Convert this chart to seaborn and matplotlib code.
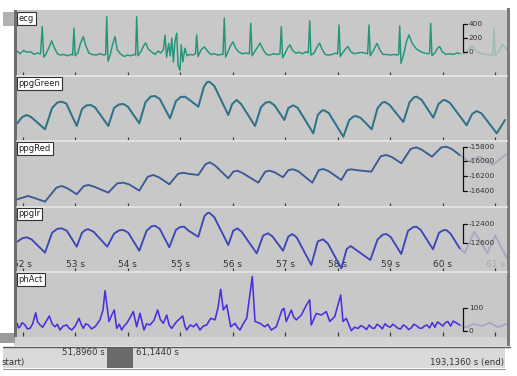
import matplotlib
matplotlib.use("Agg")
import matplotlib.pyplot as plt
import seaborn as sns
from matplotlib.patches import Rectangle

sns.set_style("white")
plt.rcParams['font.family'] = ['DejaVu Sans']

# ---------------- data (time in s) ----------------
ecg_t = [51.89, 51.95, 52.02, 52.08, 52.15, 52.22, 52.28, 52.34, 52.373, 52.40, 52.44, 52.50, 52.552, 52.60, 52.66,
         52.72, 52.78, 52.85, 52.92, 52.95, 52.977, 53.00, 53.05, 53.10, 53.154, 53.20, 53.26,
         53.32, 53.40, 53.47, 53.55, 53.58, 53.60, 53.625, 53.67, 53.71, 53.758, 53.80, 53.86,
         53.93, 54.00, 54.06, 54.12, 54.15, 54.171, 54.195, 54.25, 54.30, 54.343, 54.39, 54.45,
         54.52, 54.58, 54.63, 54.68, 54.71, 54.74, 54.78, 54.81, 54.84, 54.87, 54.90, 54.933, 54.96, 54.996,
         55.02, 55.05, 55.09, 55.13, 55.18, 55.24, 55.29, 55.314, 55.34, 55.40, 55.46, 55.52, 55.58,
         55.65, 55.72, 55.78, 55.815, 55.84, 55.865, 55.92, 55.96, 56.006, 56.05, 56.11,
         56.18, 56.25, 56.318, 56.343, 56.37, 56.45, 56.52, 56.58, 56.64,
         56.71, 56.78, 56.85, 56.90, 56.926, 56.95, 57.00, 57.05, 57.091, 57.14, 57.20,
         57.27, 57.33, 57.40, 57.44, 57.467, 57.49, 57.55, 57.60, 57.657, 57.70, 57.76,
         57.82, 57.90, 57.96, 58.00, 58.025, 58.05, 58.10, 58.15, 58.196, 58.25, 58.31,
         58.38, 58.45, 58.52, 58.57, 58.596, 58.62, 58.68, 58.749, 58.80, 58.86,
         58.93, 59.00, 59.07, 59.13, 59.16, 59.181, 59.205, 59.26, 59.31, 59.358, 59.42, 59.50,
         59.58, 59.65, 59.72, 59.75, 59.771, 59.795, 59.85, 59.90, 59.943, 59.99, 60.06,
         60.13, 60.20, 60.27, 60.324]
ecg_v = [10, -30, 20, -10, 0, -40, -20, -30, 365, -80, -40, 60, 160, 60, -30,
         -50, -40, -60, -40, -50, 340, -60, -20, 120, 220, 90, -20,
         -40, -50, -30, -50, -40, 510, -140, -40, 100, 220, 30, -30,
         -70, -50, -60, -40, -50, 510, -60, 0, 80, 130, 40, 0,
         -40, 10, -20, 30, 240, -80, 120, -60, 200, -150, 150, 270, -200, -270,
         100, -150, 50, -60, -40, -50, -30, 245, -70, 30, 70, 10, -40,
         -30, -50, -40, -40, 490, -80, 20, 90, 145, 60, 0,
         -30, -20, -30, 415, -60, 40, 125, 30, -40,
         -50, -30, -40, -30, 365, -90, -20, 60, 100, 20, -20,
         -10, -30, 0, -20, 450, -50, -20, 60, 125, 40, -40,
         -50, -40, -20, -30, 390, -70, -10, 40, 75, 0, -30,
         -20, -10, -20, -30, 390, -60, 20, 120, 30, -40,
         -40, -50, -40, -50, -40, 375, -170, -30, 150, 245, 120, 40,
         0, -20, -30, -20, 415, -60, -20, 50, 75, 0, -40,
         -30, -40, -20, -25]
ecg_fade_t = [60.324, 60.40, 60.50, 60.56, 60.65, 60.75, 60.85, 60.95, 60.98, 61.00, 61.08, 61.14, 61.22]
ecg_fade_v = [-25, -40, 40, 90, 0, -30, -40, -50, 340, -60, 20, 110, 30]

green_t = [51.897, 51.99, 52.076, 52.16, 52.425, 52.56, 52.66, 52.743, 52.83, 53.029, 53.13, 53.21, 53.295, 53.38,
           53.630, 53.74, 53.83, 53.916, 54.00, 54.221, 54.34, 54.44, 54.520, 54.61, 54.806, 54.92, 55.01, 55.091,
           55.18, 55.345, 55.45, 55.51, 55.554, 55.65, 55.916, 55.99, 56.076, 56.16, 56.425, 56.54, 56.63, 56.710,
           56.80, 56.983, 57.06, 57.154, 57.24, 57.535, 57.62, 57.70, 57.739, 57.83, 58.107, 58.22, 58.30, 58.349,
           58.44, 58.648, 58.76, 58.85, 58.901, 58.99, 59.250, 59.37, 59.46, 59.505, 59.60, 59.821, 59.92, 60.00,
           60.044, 60.14, 60.457, 60.56, 60.648, 60.74, 61.029, 61.187]
green_v = [177, 240, 260, 240, 117, 330, 385, 393, 375, 150, 320, 355, 360, 335,
           150, 330, 365, 370, 345, 177, 390, 445, 450, 420, 227, 400, 440, 443,
           410, 343, 540, 588, 593, 550, 260, 370, 410, 370, 150, 340, 385, 390,
           355, 210, 330, 357, 330, 77, 260, 305, 307, 280, 43, 210, 245, 250,
           230, 117, 330, 385, 390, 360, 190, 390, 440, 443, 410, 233, 370, 405,
           410, 380, 157, 270, 300, 275, 77, 210]

red_t = [51.897, 52.107, 52.425, 52.64, 52.743, 52.86, 53.029, 53.16, 53.250, 53.36, 53.630, 53.80, 53.916, 54.03,
         54.221, 54.38, 54.488, 54.60, 54.792, 54.96, 55.059, 55.16, 55.345, 55.48, 55.568, 55.67, 55.916, 56.01,
         56.088, 56.19, 56.488, 56.62, 56.705, 56.80, 56.958, 57.06, 57.149, 57.25, 57.516, 57.64, 57.720, 57.82,
         58.069, 58.18, 58.259, 58.36, 58.640, 58.82, 58.926, 59.03, 59.211, 59.39, 59.497, 59.60, 59.796, 59.97,
         60.069, 60.17, 60.324]
red_v = [-16517, -16472, -16550, -16360, -16336, -16370, -16449, -16340, -16322, -16345, -16427, -16300, -16291, -16315,
         -16400, -16210, -16186, -16220, -16313, -16170, -16155, -16170, -16186, -16040, -16013, -16060, -16231, -16140,
         -16127, -16160, -16291, -16140, -16127, -16150, -16217, -16120, -16108, -16135, -16291, -16120, -16104, -16130,
         -16254, -16120, -16108, -16120, -16141, -15930, -15913, -15940, -16026, -15830, -15808, -15840, -15936, -15810,
         -15800, -15830, -15913]
red_fade_t = [60.324, 60.50, 60.70, 60.95, 61.22]
red_fade_v = [-15913, -16000, -15930, -16050, -15900]

ir_t = [51.897, 51.99, 52.076, 52.17, 52.425, 52.56, 52.66, 52.743, 52.84, 53.029, 53.13, 53.20, 53.250, 53.35,
        53.611, 53.74, 53.84, 53.916, 54.01, 54.221, 54.36, 54.45, 54.520, 54.61, 54.792, 54.92, 55.00, 55.072,
        55.16, 55.345, 55.46, 55.52, 55.554, 55.65, 55.916, 56.01, 56.088, 56.17, 56.457, 56.58, 56.672, 56.76,
        56.958, 57.06, 57.135, 57.22, 57.497, 57.62, 57.720, 57.81, 58.069, 58.17, 58.248, 58.33, 58.621, 58.76,
        58.86, 58.926, 59.01, 59.211, 59.34, 59.44, 59.497, 59.58, 59.815, 59.93, 60.01, 60.069, 60.15, 60.324]
ir_v = [-12583, -12548, -12538, -12560, -12697, -12490, -12450, -12445, -12470, -12635, -12490, -12460, -12455, -12480,
        -12635, -12500, -12465, -12462, -12490, -12677, -12470, -12425, -12418, -12450, -12641, -12460, -12432, -12428,
        -12470, -12532, -12320, -12287, -12283, -12330, -12618, -12470, -12445, -12480, -12704, -12520, -12496, -12530,
        -12677, -12530, -12504, -12540, -12825, -12580, -12559, -12600, -12859, -12660, -12628, -12660, -12773, -12560,
        -12510, -12504, -12535, -12711, -12470, -12432, -12428, -12460, -12662, -12490, -12465, -12462, -12500, -12652]
ir_fade_t = [60.324, 60.42, 60.60, 60.85, 61.00, 61.22]
ir_fade_v = [-12652, -12700, -12480, -12700, -12520, -12750]

act_t = [51.897, 51.92, 51.949, 51.99, 52.044, 52.09, 52.139, 52.19, 52.248, 52.28, 52.330, 52.38, 52.425, 52.507,
         52.56, 52.615, 52.66, 52.710, 52.77, 52.838, 52.88, 52.933, 53.00, 53.072, 53.11,
         53.154, 53.20, 53.250, 53.31, 53.377, 53.42, 53.472, 53.53, 53.568, 53.600, 53.644, 53.70, 53.745, 53.790,
         53.84, 53.886, 53.93, 53.981, 54.04, 54.107, 54.171,
         54.234, 54.310, 54.36, 54.425, 54.50, 54.571, 54.62, 54.678, 54.743, 54.79, 54.838, 54.933, 55.048, 55.09,
         55.124, 55.19, 55.250, 55.31, 55.377, 55.44, 55.505,
         55.581, 55.663, 55.72, 55.771, 55.821, 55.886, 55.962, 56.044, 56.09, 56.139, 56.20, 56.267, 56.373, 56.425,
         56.520, 56.610, 56.67,
         56.735, 56.830, 56.939, 56.977, 57.021, 57.116, 57.16, 57.211, 57.307, 57.40, 57.467, 57.497, 57.592, 57.688,
         57.783, 57.848, 57.943, 58.057, 58.101, 58.164, 58.259, 58.32, 58.387, 58.44, 58.50, 58.55, 58.60, 58.65,
         58.70, 58.75, 58.80, 58.85, 58.90, 58.95, 59.00, 59.05, 59.10,
         59.15, 59.20, 59.25, 59.30, 59.35, 59.40, 59.45, 59.50, 59.55, 59.60, 59.65, 59.70, 59.75, 59.80, 59.85,
         59.90, 59.95, 60.00, 60.05, 60.10, 60.15, 60.20, 60.25, 60.324]
act_v = [32, 12, 17, 35, 25, 8, 10, 30, 78, 40, 25, 15, 32, 64,
         30, 17, 28, 3, 20, 25, 12, 3, 20, 54, 30,
         10, 30, 25, 8, 17, 30, 47, 90, 174, 119, 40, 70, 90, 10,
         28, 3, 20, 32, 55, 83, 17,
         76, 3, 30, 25, 45, 90, 50, 32, 68, 25, 10, 40, 64, 20,
         3, 25, 17, 30, 3, 20, 25,
         54, 47, 100, 180, 90, 112, 17, 32, 15, 3, 30, 54, 235, 40,
         32, 17, 28,
         3, 17, 90, 97, 40, 90, 60, 47, 68, 110, 134, 25, 75, 68,
         83, 40, 61, 155, 40, 54, 0, 15, 10, 22, 15, 5, 25, 12,
         10, 28, 20, 8, 30, 20, 15, 28, 20,
         10, 8, 25, 18, 5, 12, 28, 22, 12, 10, 20, 25, 12, 35, 15,
         38, 30, 20, 35, 40, 20, 42, 35, 25]
act_fade_t = [60.324, 60.45, 60.60, 60.75, 60.90, 61.05, 61.22]
act_fade_v = [25, 15, 30, 20, 35, 15, 30]

panel_names = ["ecg", "ppgGreen", "ppgRed", "ppgIr", "phAct"]
panel_colors = ["#22967a", "#2f7388", "#3b5c92", "#3d47b8", "#4a2ee0"]
scale_labels = [["400", "200", "0"], [], ["-15800", "-16000", "-16200", "-16400"], ["-12400", "-12600"], ["100", "0"]]
scale_values = [[400, 200, 0], [], [-15800, -16000, -16200, -16400], [-12400, -12600], [100, 0]]
tick_secs = [52, 53, 54, 55, 56, 57, 58, 59, 60, 61]
tick_texts = ["52 s", "53 s", "54 s", "55 s", "56 s", "57 s", "58 s", "59 s", "60 s", "61 s"]

# ---------------- layout ----------------
W, H = 517, 376
fig = plt.figure(figsize=(W / 100, H / 100), dpi=100)
fig.patch.set_facecolor("white")

bg = fig.add_axes([0, 0, 1, 1])
bg.set_xlim(0, W)
bg.set_ylim(H, 0)
bg.axis("off")
bg.set_zorder(0)

def rect(ax, x0, y0, x1, y1, c, z=1):
    ax.add_patch(Rectangle((x0, y0), x1 - x0, y1 - y0, facecolor=c, edgecolor="none", zorder=z))

rect(bg, 14, 10, 508, 337, "#c8c8c8")
rect(bg, 14, 337, 510, 346, "#d4d4d4")
rect(bg, 3, 347, 505, 368, "#dadada")
rect(bg, 107, 347, 133, 368, "#6b6b6b", 2)
bg.plot([3, 510], [346.5, 346.5], color="#5a5a5a", lw=1.0, zorder=3)
bg.plot([3, 505], [368.5, 368.5], color="#9a9a9a", lw=0.8, zorder=3)
rect(bg, 3, 12, 14, 26, "#b2b2b2")
rect(bg, 0, 333, 15, 343, "#9c9c9c")
bg.plot([14, 508], [10.5, 10.5], color="#b8b8b8", lw=0.8)
bg.text(105, 353, "51,8960 s", ha="right", va="center", fontsize=6.2, color="#333333")
bg.text(136, 353, "61,1440 s", ha="left", va="center", fontsize=6.2, color="#333333")
bg.text(2, 362, "start)", ha="left", va="center", fontsize=6.2, color="#333333")
bg.text(504, 362, "193,1360 s (end)", ha="right", va="center", fontsize=6.2, color="#333333")

panel_px = [(11, 76), (76, 141), (141, 206.5), (206.5, 272), (272, 336)]
ylims = [(-355, 594), (0, 650), (-16616, -15722), (-12897, -12219), (-23, 255)]
series = [(ecg_t, ecg_v, ecg_fade_t, ecg_fade_v),
          (green_t, green_v, None, None),
          (red_t, red_v, red_fade_t, red_fade_v),
          (ir_t, ir_v, ir_fade_t, ir_fade_v),
          (act_t, act_v, act_fade_t, act_fade_v)]
lws = [1.05, 1.45, 1.35, 1.35, 1.15]
x_left, x_right = 17, 507
t0 = 52 + (x_left - 22.7) / 52.5
t1 = 52 + (x_right - 22.7) / 52.5
bracket_x = (463.5 - x_left) / (x_right - x_left)

for i, name in enumerate(panel_names):
    top, bot = panel_px[i]
    ax = fig.add_axes([x_left / W, 1 - bot / H, (x_right - x_left) / W, (bot - top) / H])
    ax.set_zorder(5 + i)
    ax.set_facecolor("#c8c8c8")
    ax.set_xlim(t0, t1)
    ax.set_ylim(*ylims[i])
    for s in ax.spines.values():
        s.set_visible(False)
    ax.set_xticks(tick_secs)
    ax.set_yticks([])
    ax.tick_params(axis="x", direction="in", length=3, width=0.9, color="#3a3a3a",
                   labelbottom=False, bottom=True, pad=0)
    t, v, ft, fv = series[i]
    c = panel_colors[i]
    if ft is not None:
        sns.lineplot(x=ft, y=fv, ax=ax, color=c, alpha=0.25, linewidth=lws[i], estimator=None, sort=False)
    sns.lineplot(x=t, y=v, ax=ax, color=c, linewidth=lws[i], estimator=None, sort=False, zorder=4)
    ax.set_xlabel("")
    ax.set_ylabel("")
    ax.text(0.003, 0.955, name, transform=ax.transAxes, ha="left", va="top", fontsize=6, color="#222222",
            bbox=dict(boxstyle="square,pad=0.22", fc="white", ec="#333333", lw=0.8), zorder=6)
    if scale_values[i]:
        tr = ax.get_yaxis_transform()
        vals = scale_values[i]
        ax.plot([bracket_x, bracket_x], [vals[0], vals[-1]], color="#111111", lw=0.9, transform=tr, zorder=6)
        for val, lab in zip(vals, scale_labels[i]):
            ax.plot([bracket_x, bracket_x + 0.008], [val, val], color="#111111", lw=0.9, transform=tr, zorder=6)
            ax.text(bracket_x + 0.011, val, lab, transform=tr, ha="left", va="center", fontsize=5.3,
                    color="#333333", zorder=6)
    if name == "ppgIr":
        for sec, txt in zip(tick_secs, tick_texts):
            ax.text(sec, ylims[i][0] + 0.11 * (ylims[i][1] - ylims[i][0]), txt, ha="center", va="center",
                    fontsize=6.5, color="#333333" if sec < 61 else "#aaaaaa", zorder=2, clip_on=True)

top = fig.add_axes([0, 0, 1, 1])
top.set_xlim(0, W)
top.set_ylim(H, 0)
top.axis("off")
top.set_zorder(20)
top.patch.set_alpha(0)
for yy in [76, 141, 206.5, 272]:
    top.plot([x_left, x_right], [yy, yy], color="#e4e4e4", lw=1.3)
rect(top, 14, 10, 17, 337, "#6e6e6e")
rect(top, 507, 8, 509.5, 346, "#7a7a7a")

fig.savefig("out.png", dpi=100)
